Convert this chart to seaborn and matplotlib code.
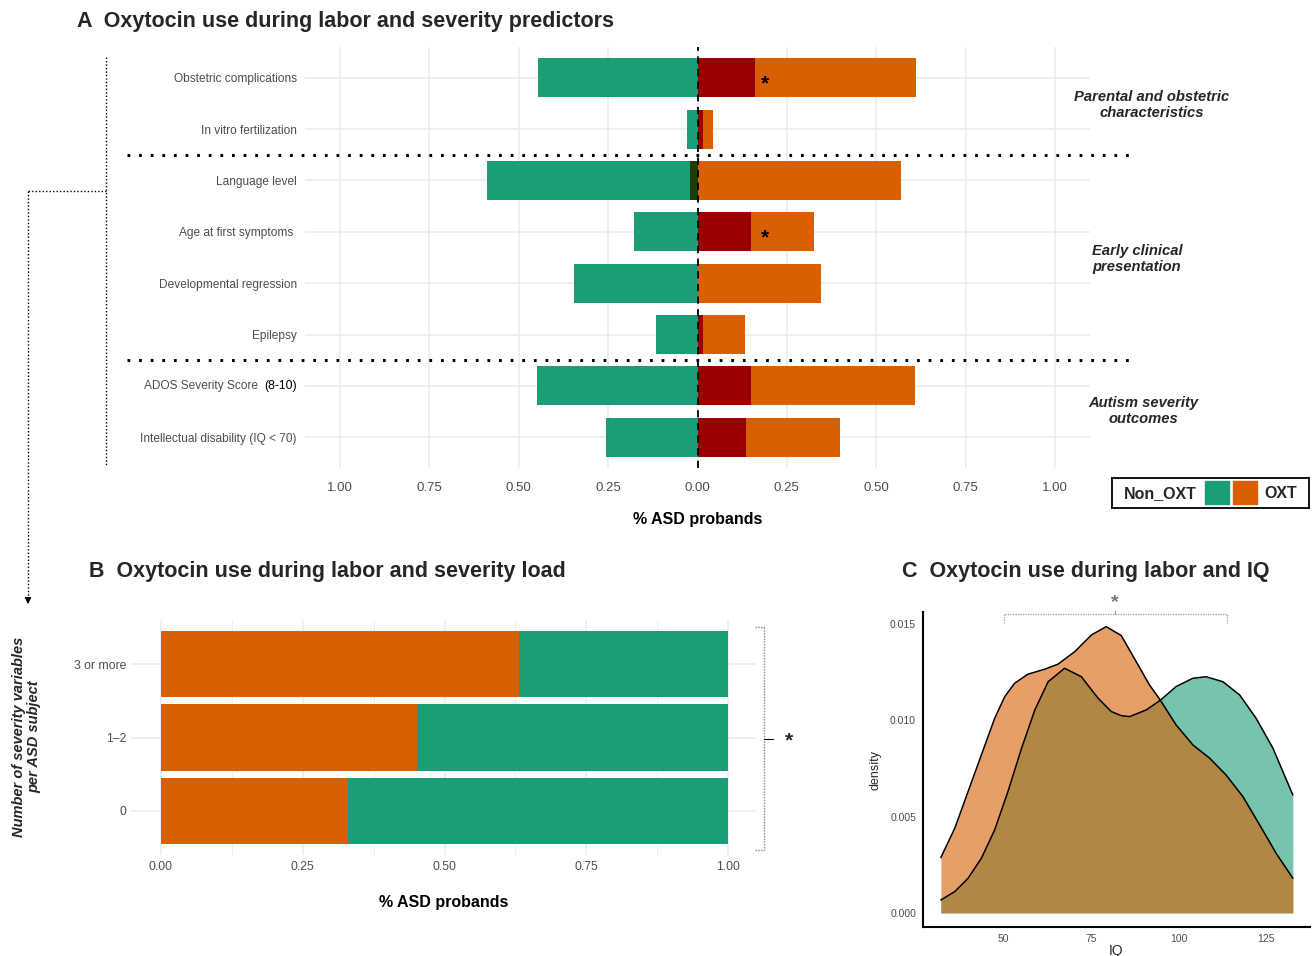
import numpy as np
import pandas as pd
import matplotlib
matplotlib.use("Agg")
import matplotlib.pyplot as plt
from matplotlib.patches import Rectangle
import seaborn as sns

# ---------------- data ----------------
predictors = ["Obstetric complications", "In vitro fertilization", "Language level",
              "Age at first symptoms ", "Developmental regression", "Epilepsy",
              "ADOS Severity Score", "Intellectual disability (IQ < 70)"]
non_oxt_pct = [0.447, 0.028, 0.589, 0.179, 0.346, 0.115, 0.450, 0.257]
oxt_pct = [0.611, 0.044, 0.569, 0.326, 0.346, 0.133, 0.608, 0.400]
oxt_sub_pct = [0.162, 0.016, 0.0, 0.151, 0.0, 0.016, 0.151, 0.137]
non_oxt_sub_pct = [0.0, 0.0, 0.022, 0.0, 0.0, 0.0, 0.0, 0.0]
signif_rows = ["Obstetric complications", "Age at first symptoms "]
group_labels = ["Parental and obstetric\ncharacteristics", "Early clinical\npresentation",
                "Autism severity\noutcomes"]
xticks_A = [-1.0, -0.75, -0.5, -0.25, 0.0, 0.25, 0.5, 0.75, 1.0]

sev_levels = ["3 or more", "1\u20132", "0"]
sev_oxt_share = [0.632, 0.452, 0.329]
sev_total = [1.0, 1.0, 1.0]
xticks_B = [0.0, 0.25, 0.5, 0.75, 1.0]

iq_oxt = [32.0, 36.0, 39.8, 43.6, 47.4, 50.3, 53.1, 56.9, 61.7, 65.5, 70.3, 75.1, 79.3,
          83.6, 87.9, 91.7, 94.8, 99.3, 104.1, 108.9, 113.6, 118.4, 123.2, 127.9, 132.7]
dens_oxt = [0.00287, 0.00440, 0.00630, 0.00820, 0.01010, 0.01123, 0.01192, 0.01239,
            0.01265, 0.01291, 0.01356, 0.01443, 0.01486, 0.01440, 0.01304, 0.01183,
            0.01104, 0.00976, 0.00872, 0.00803, 0.00716, 0.00604, 0.00457, 0.00310,
            0.00180]
iq_non = [32.0, 36.0, 39.8, 43.6, 47.4, 51.2, 55.1, 58.9, 62.7, 67.4, 72.2, 77.0, 80.8,
          83.6, 86.0, 90.8, 94.8, 99.3, 104.1, 107.9, 112.7, 117.5, 122.2, 127.0, 132.7]
dens_non = [0.00067, 0.00111, 0.00180, 0.00284, 0.00431, 0.00630, 0.00855, 0.01054,
            0.01200, 0.01270, 0.01226, 0.01114, 0.01045, 0.01024, 0.01019, 0.01054,
            0.01104, 0.01175, 0.01218, 0.01226, 0.01200, 0.01131, 0.01010, 0.00855,
            0.00612]

GREEN = "#1b9e77"
ORANGE = "#d95f02"
DARKRED = "#990000"
DARKGREEN = "#1f3d05"
TXT = "#4d4d4d"
GRID = "#ebebeb"

sns.set_theme(style="white")
plt.rcParams['font.family'] = ['Liberation Sans', 'DejaVu Sans']

W, H = 1315, 956
fig = plt.figure(figsize=(W / 100, H / 100), dpi=100)


def rect(x0, y0, x1, y1):
    return [x0 / W, 1 - y1 / H, (x1 - x0) / W, (y1 - y0) / H]


# overlay for annotations in pixel space (drawn on top, transparent)
ov = fig.add_axes([0, 0, 1, 1])
ov.set_xlim(0, W)
ov.set_ylim(H, 0)
ov.axis("off")
ov.patch.set_alpha(0)
ov.set_zorder(10)

# ---------------- Panel A ----------------
axA = fig.add_axes(rect(305, 47, 1090, 468))
dfA = pd.DataFrame({"predictor": predictors,
                    "non": [-v for v in non_oxt_pct],
                    "non_sub": [-v for v in non_oxt_sub_pct],
                    "oxt": oxt_pct, "oxt_sub": oxt_sub_pct})
common = dict(y="predictor", order=predictors, orient="h", width=0.76,
              errorbar=None, saturation=1, linewidth=0, ax=axA)
sns.barplot(data=dfA, x="non", color=GREEN, **common)
sns.barplot(data=dfA, x="oxt", color=ORANGE, **common)
sns.barplot(data=dfA, x="oxt_sub", color=DARKRED, **common)
sns.barplot(data=dfA, x="non_sub", color=DARKGREEN, **common)

axA.set_xlim(-1.098, 1.098)
axA.set_ylim(len(predictors) - 1 + 0.6, -0.6)
axA.set_xticks(xticks_A)
axA.set_xticklabels([f"{abs(v):.2f}" for v in xticks_A])
axA.set_yticks(range(len(predictors)))
axA.set_yticklabels([p if not p.startswith("ADOS") else "" for p in predictors])
axA.set_axisbelow(True)
axA.grid(True, color=GRID, lw=1.1)
for s in axA.spines.values():
    s.set_visible(False)
axA.tick_params(axis="y", length=0, pad=5.8, labelsize=8.6, labelcolor=TXT)
axA.tick_params(axis="x", length=0, pad=10, labelsize=9.5, labelcolor=TXT)
axA.set_ylabel("")
axA.set_xlabel("% ASD probands", fontsize=11.5, fontweight="bold", color="black", labelpad=13)
axA.axvline(0, color="black", ls=(0, (4, 3)), lw=1.3, zorder=5)

ytr = axA.get_yaxis_transform()
ados_i = [i for i, p in enumerate(predictors) if p.startswith("ADOS")][0]
axA.annotate("(8-10)", xy=(0, ados_i), xycoords=ytr, xytext=(-5.8, 0),
             textcoords="offset points", ha="right", va="center", fontsize=8.8, color="black")
axA.annotate("ADOS Severity Score", xy=(0, ados_i), xycoords=ytr, xytext=(-33.5, 0),
             textcoords="offset points", ha="right", va="center", fontsize=8.6, color=TXT)

for r in signif_rows:
    i = predictors.index(r)
    axA.text(0.19, i + 0.12, "*", ha="center", va="center", fontsize=15, fontweight="bold",
             color="black", zorder=6)

for ysep in [1.5, 5.5]:
    axA.plot([-0.2268, 1.0535], [ysep, ysep], transform=ytr, color="black", lw=2.2,
             ls=(0, (0.9, 2.9)), clip_on=False, zorder=6)

for (txt, (gx, gy)) in zip(group_labels, [(1152, 105), (1137, 259), (1143, 411)]):
    ov.text(gx, gy, txt, ha="center", va="center", fontsize=10.6, fontweight="bold",
            fontstyle="italic", linespacing=1.2)

# left bracket + arrow
dot = dict(color="black", lw=1.0, ls=(0, (1, 1.5)))
ov.plot([106, 106], [57, 465], **dot)
ov.plot([106, 28], [191, 191], **dot)
ov.plot([28, 28], [191, 598], **dot)
ov.annotate("", xy=(28, 607), xytext=(28, 597),
            arrowprops=dict(arrowstyle="-|>", color="black", lw=1, mutation_scale=9))

# titles
ov.text(77, 21, "A  Oxytocin use during labor and severity predictors", fontsize=15.5,
        fontweight="bold", va="center", ha="left")
ov.text(89, 571, "B  Oxytocin use during labor and severity load", fontsize=15.5,
        fontweight="bold", va="center", ha="left")
ov.text(902, 571, "C  Oxytocin use during labor and IQ", fontsize=15.5,
        fontweight="bold", va="center", ha="left")

# legend
lg = fig.add_axes(rect(1112, 478, 1309, 508))
lg.set_xlim(1112, 1309)
lg.set_ylim(508, 478)
lg.set_xticks([])
lg.set_yticks([])
for s in lg.spines.values():
    s.set_visible(True)
    s.set_color("black")
    s.set_linewidth(1.3)
lg.text(1124, 493.5, "Non_OXT", fontsize=11.5, fontweight="bold", va="center", ha="left")
lg.add_patch(Rectangle((1205, 481), 24, 23, color=GREEN))
lg.add_patch(Rectangle((1233, 481), 24, 23, color=ORANGE))
lg.text(1264, 493.5, "OXT", fontsize=11.5, fontweight="bold", va="center", ha="left")

# ---------------- Panel B ----------------
axB = fig.add_axes(rect(131, 620, 756, 855))
dfB = pd.DataFrame({"level": sev_levels, "total": sev_total, "oxt": sev_oxt_share})
cb = dict(y="level", order=sev_levels, orient="h", width=0.9, errorbar=None,
          saturation=1, linewidth=0, ax=axB)
sns.barplot(data=dfB, x="total", color=GREEN, **cb)
sns.barplot(data=dfB, x="oxt", color=ORANGE, **cb)
axB.set_xlim(-0.0528, 1.049)
axB.set_ylim(len(sev_levels) - 1 + 0.6, -0.6)
axB.set_xticks(xticks_B)
axB.set_xticklabels([f"{v:.2f}" for v in xticks_B])
axB.set_xticks([0.125, 0.375, 0.625, 0.875], minor=True)
axB.set_yticks(range(len(sev_levels)))
axB.set_yticklabels(sev_levels)
axB.set_axisbelow(True)
axB.grid(True, which="major", color=GRID, lw=1.1)
axB.grid(True, which="minor", axis="x", color=GRID, lw=0.6)
for s in axB.spines.values():
    s.set_visible(False)
axB.tick_params(axis="both", which="both", length=0, labelsize=8.8, labelcolor=TXT)
axB.tick_params(axis="x", pad=4)
axB.tick_params(axis="y", pad=3)
axB.set_ylabel("")
axB.set_xlabel("% ASD probands", fontsize=11.5, fontweight="bold", color="black", labelpad=16)
ov.text(27, 737, "Number of severity variables\nper ASD subject", rotation=90, ha="center",
        va="center", fontsize=10.5, fontweight="bold", fontstyle="italic", linespacing=1.1)

# bracket B
gdot = dict(color="#888888", lw=1.0, ls=(0, (1, 1)))
ov.plot([764, 764], [627, 850], **gdot)
ov.plot([755, 764], [627, 627], **gdot)
ov.plot([755, 764], [850, 850], **gdot)
ov.plot([764, 773], [739, 739], color="black", lw=0.8)
ov.text(789, 741, "*", ha="center", va="center", fontsize=15, fontweight="bold")

# ---------------- Panel C ----------------
axC = fig.add_axes(rect(923, 612, 1310, 927))
axC.fill_between(iq_non, 0, dens_non, color=GREEN, alpha=0.6, lw=0)
sns.lineplot(x=iq_non, y=dens_non, color="black", lw=1.1, estimator=None, ax=axC)
axC.fill_between(iq_oxt, 0, dens_oxt, color=ORANGE, alpha=0.6, lw=0)
sns.lineplot(x=iq_oxt, y=dens_oxt, color="black", lw=1.1, estimator=None, ax=axC)
axC.set_xlim(26.9, 137.6)
axC.set_ylim(-0.00073, 0.01562)
axC.set_xticks([50, 75, 100, 125])
axC.set_yticks([0.0, 0.005, 0.010, 0.015])
axC.set_yticklabels(["0.000", "0.005", "0.010", "0.015"])
for s in ["top", "right"]:
    axC.spines[s].set_visible(False)
for s in ["left", "bottom"]:
    axC.spines[s].set_color("black")
    axC.spines[s].set_linewidth(1.5)
axC.tick_params(axis="both", length=3, width=0.8, color="black", labelsize=7.5,
                labelcolor=TXT, pad=2)
axC.set_xlabel("IQ", fontsize=10, labelpad=0)
axC.set_ylabel("density", fontsize=9, labelpad=6)
# significance bracket C
axC.plot([50, 50, 113.9, 113.9], [0.01507, 0.01554, 0.01554, 0.01507], color="#999999",
         lw=0.9, ls=(0, (1, 1)), clip_on=False)
axC.plot([81.8, 81.8], [0.01554, 0.01567], color="#999999", lw=0.9, clip_on=False)
axC.text(81.8, 0.0161, "*", ha="center", va="center", fontsize=14, fontweight="bold",
         color="#777777", clip_on=False)

fig.savefig("out.png", dpi=100)
